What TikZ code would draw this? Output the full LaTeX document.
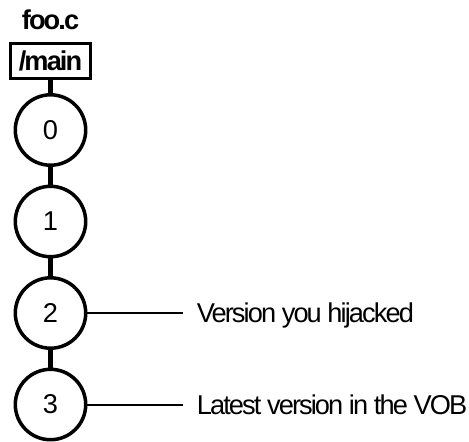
\documentclass[tikz,border=0pt]{standalone}
\usepackage{fontspec}
\setmainfont{Liberation Sans}[LetterSpace=-7]
\usetikzlibrary{positioning}

\begin{document}
\begin{tikzpicture}[
    font=\fontsize{13.6}{16}\selectfont,
    node distance=45.75pt,
    ver/.style={draw,circle,line width=1.75pt,minimum size=35.2pt,inner sep=0pt},
    branch/.style={draw,line width=1.5pt,minimum width=40pt,minimum height=17.5pt,inner sep=0pt,
      text height=9.7pt,text depth=0pt,font=\fontsize{13.6}{16}\selectfont\bfseries},
    note/.style={inner xsep=6.5pt,inner ysep=0pt,text height=9.7pt,text depth=0pt},
    stem/.style={line width=2.5pt},
    lead/.style={line width=1pt}]
      \useasboundingbox (0,0) rectangle (234.5pt,-220.5pt);

      \node[branch] (main) at (25.25pt,-30.5pt) {/main};
      \node[above of=main,node distance=20.5pt,font=\fontsize{13.6}{16}\selectfont\bfseries] (file) {foo.c};
      \node[ver,below of=main,node distance=34.5pt] (0) {0};
      \node[ver,below of=0] (1) {1};
      \node[ver,below of=1] (2) {2};
      \node[ver,below of=2] (3) {3};
      \node[note,right=48pt of 2] (hij) {Version you hijacked};
      \node[note,right=48pt of 3] (vob) {Latest version in the VOB};

      \draw[stem] (main) -- (0);
      \draw[stem] (0) -- (1);
      \draw[stem] (1) -- (2);
      \draw[stem] (2) -- (3);
      \draw[lead] (2) -- (hij);
      \draw[lead] (3) -- (vob);
    \end{tikzpicture}
\end{document}
